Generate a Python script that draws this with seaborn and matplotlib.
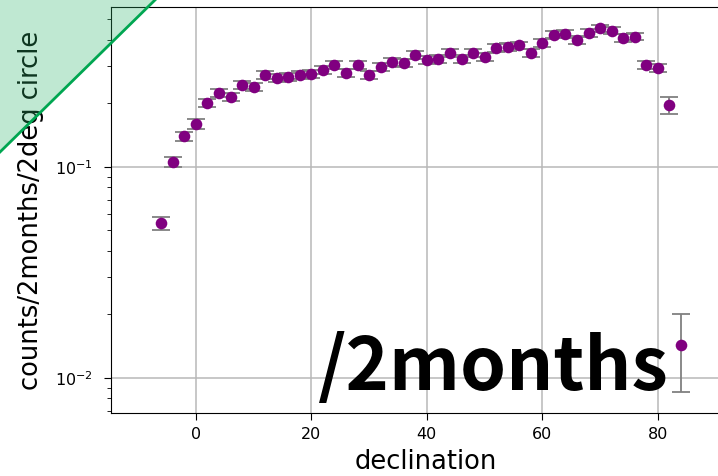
import numpy as np
import pandas as pd
import matplotlib
matplotlib.use("Agg")
import matplotlib.pyplot as plt
from matplotlib.patches import Polygon
import seaborn as sns

# valores
declinacao = [-6, -4, -2, 0, 2, 4, 6, 8, 10, 12, 14, 16, 18, 20, 22, 24, 26, 28,
              30, 32, 34, 36, 38, 40, 42, 44, 46, 48, 50, 52, 54, 56, 58, 60,
              62, 64, 66, 68, 70, 72, 74, 76, 78, 80, 82, 84]
contagens = [0.054, 0.106, 0.140, 0.160, 0.201, 0.224, 0.215, 0.245, 0.240,
             0.273, 0.264, 0.267, 0.273, 0.276, 0.289, 0.304, 0.279, 0.304,
             0.273, 0.298, 0.314, 0.311, 0.339, 0.322, 0.325, 0.347, 0.325,
             0.347, 0.332, 0.367, 0.370, 0.378, 0.347, 0.387, 0.424, 0.427,
             0.400, 0.432, 0.455, 0.442, 0.409, 0.414, 0.304, 0.295, 0.197,
             0.0143]
erros = [0.0037, 0.006, 0.007, 0.008, 0.009, 0.010, 0.010, 0.011, 0.011,
         0.012, 0.012, 0.012, 0.012, 0.012, 0.013, 0.013, 0.012, 0.013,
         0.012, 0.013, 0.013, 0.013, 0.014, 0.014, 0.014, 0.014, 0.014,
         0.014, 0.014, 0.015, 0.015, 0.015, 0.014, 0.016, 0.017, 0.017,
         0.016, 0.017, 0.018, 0.017, 0.016, 0.016, 0.014, 0.014, 0.018,
         0.0057]

dados = pd.DataFrame({'declination': declinacao, 'counts': contagens, 'err': erros})

fig = plt.figure(figsize=(7.18, 4.76), dpi=100)
ax = fig.add_axes([111 / 718, 1 - 413 / 476, 630 / 718, 406 / 476])

# barras de erro
ax.errorbar(dados['declination'], dados['counts'], yerr=dados['err'], fmt='none',
            ecolor='grey', elinewidth=1.3, capsize=6.5, capthick=1.3, zorder=2)
# pontos
sns.scatterplot(x='declination', y='counts', data=dados, color='purple', s=70,
                linewidth=0, ax=ax, zorder=3)

ax.set_yscale('log')
ax.set_xlim(-14.7, 94.4)
ax.set_ylim(0.00682, 0.573)
ax.set_xticks([0, 20, 40, 60, 80])
ax.grid(True, which='major', color='#b8b8b8', linewidth=1.1)
ax.set_axisbelow(True)
ax.tick_params(which='major', labelsize=11.5, length=5, pad=5)
ax.tick_params(axis='y', which='major', pad=8)
ax.tick_params(which='minor', length=3)
ax.set_xlabel('declination', fontsize=18.5, labelpad=5)
ax.set_ylabel('counts/2months/2deg circle', fontsize=18.5, labelpad=8)

# triângulo verde no canto
tri = Polygon([[0, 1], [155 / 718, 1], [0, 1 - 152 / 476]], closed=True,
              transform=fig.transFigure, facecolor='#2db36a', alpha=0.3,
              edgecolor='none', zorder=10)
fig.patches.append(tri)
fig.add_artist(plt.Line2D([0, 155 / 718], [1 - 152 / 476, 1], transform=fig.transFigure,
                          color='#00a651', linewidth=2, zorder=11))

# texto grande
fig.text(318 / 718, 1 - 390 / 476, '/2months', fontsize=53, fontweight='bold',
         family=['Noto Sans CJK JP', 'DejaVu Sans'], color='black',
         ha='left', va='baseline', zorder=12)

fig.savefig('out.png', dpi=100)
